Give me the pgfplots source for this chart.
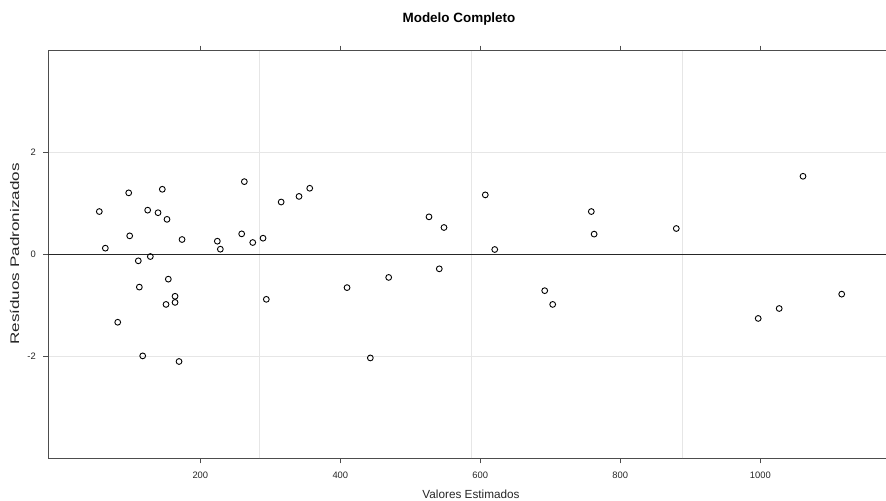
\documentclass[border=0pt]{standalone}
\usepackage{pgfplots}
\pgfplotsset{compat=1.18}
\usepackage{fontspec}
\setmainfont{Liberation Sans}

\definecolor{gridgray}{HTML}{E6E6E6}
\definecolor{framegray}{HTML}{4D4D4D}

\begin{document}
\begin{tikzpicture}[x=1bp,y=1bp]
\useasboundingbox (0,0) rectangle (886,501);
\begin{axis}[
  at={(48bp,42.7bp)}, anchor=south west,
  scale only axis, width=838bp, height=407.6bp,
  xmin=-17.6, xmax=1179.6, ymin=-4, ymax=4,
  axis x line*=box, axis y line*=left,
  x axis line style={-}, y axis line style={-},
  axis line style={framegray, line width=0.9bp},
  xtick={200,400,600,800,1000},
  xticklabels={200,400,600,800,1000},
  ytick={-2,0,2},
  yticklabels={-2,0,2},
  xticklabel pos=lower,
  tick align=outside,
  major tick length=5bp,
  tick style={framegray, line width=0.9bp},
  ticklabel style={font=\fontsize{9.4}{11}\selectfont, text=black!85},
  xticklabel style={anchor=north, inner sep=0pt},
  yticklabel style={anchor=east, inner sep=0pt},
  xticklabel shift=8bp,
  yticklabel shift=7bp,
  ymajorgrids,
  extra x ticks={283.9,586.7,888.1},
  extra x tick labels={},
  extra x tick style={grid=major, major tick length=0pt},
  major grid style={gridgray, line width=0.9bp},
  clip=false,
]
% reference line at zero
\addplot [black!85, line width=0.9bp] coordinates {(-17.6,0) (1179.6,0)};
% standardized residuals against fitted values
\addplot [only marks, mark=o, mark size=2.9bp, mark options={line width=0.9bp, black}]
coordinates {
(55.7,0.843) (97.7,1.21) (145.7,1.28) (124.8,0.87) (139.6,0.82) (152.4,0.69)
(262.9,1.43) (315.5,1.03) (341,1.14) (356.3,1.30)
(64.3,0.124) (99.1,0.366) (173.9,0.294) (224.3,0.261) (228.6,0.104)
(259.1,0.405) (274.9,0.235) (289.6,0.32)
(111.4,-0.124) (128.6,-0.04) (154.3,-0.484) (112.9,-0.64) (163.9,-0.82)
(163.9,-0.94) (151,-0.98) (294.3,-0.88) (82,-1.33) (117.7,-1.99) (169.6,-2.10)
(526.7,0.739) (548.1,0.53) (607.1,1.17) (758.6,0.843) (620.6,0.098) (762.6,0.40)
(409.6,-0.65) (469.1,-0.45) (541.4,-0.281) (692,-0.71) (703.4,-0.98) (442.9,-2.03)
(880,0.51) (1061,1.535) (997,-1.255) (1027,-1.06) (1116.3,-0.778)
};
\end{axis}
\node[anchor=base, font=\fontsize{13.5}{16}\bfseries\selectfont] at (459,478.7) {Modelo Completo};
\node[anchor=base, font=\fontsize{11.8}{14}\selectfont, text=black!85] at (471,2) {Valores Estimados};
\node[anchor=base, rotate=90, xscale=1.37, font=\fontsize{12.5}{14}\selectfont, text=black!85] at (19,247) {Resíduos Padronizados};
\end{tikzpicture}
\end{document}
